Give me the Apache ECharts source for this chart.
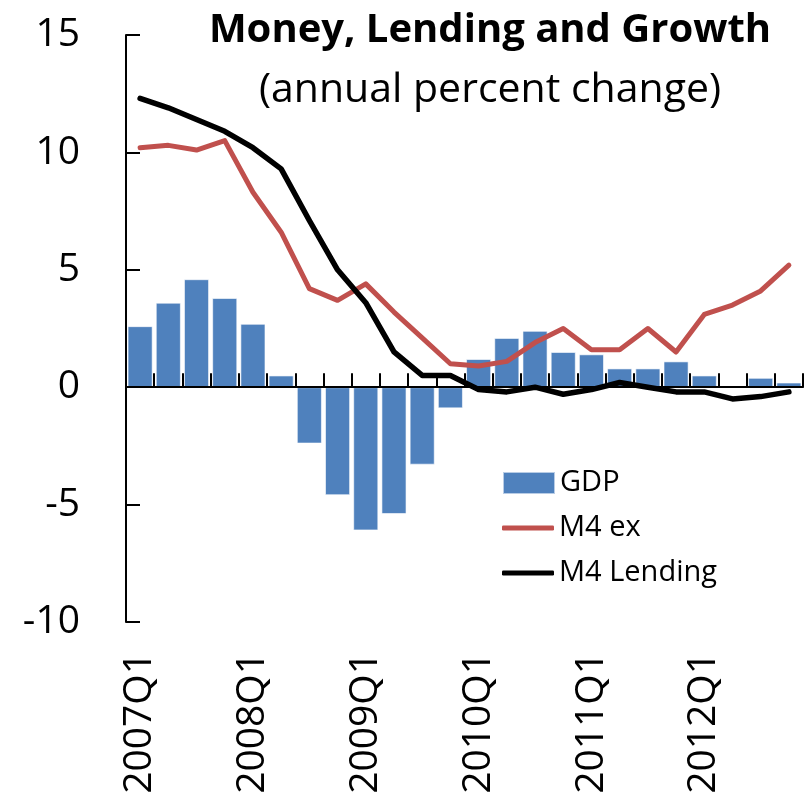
<!DOCTYPE html>
<html>
<head>
<meta charset="utf-8">
<script src="https://cdn.jsdelivr.net/npm/echarts@6/dist/echarts.min.js"></script>
<style>
  html, body { margin: 0; padding: 0; background: #fff; }
  #chart { width: 812px; height: 805px; }
</style>
</head>
<body>
<div id="chart"></div>
<script>
// Quarterly periods, 2007Q1 to 2012Q4
const quarters = [
  '2007Q1','2007Q2','2007Q3','2007Q4',
  '2008Q1','2008Q2','2008Q3','2008Q4',
  '2009Q1','2009Q2','2009Q3','2009Q4',
  '2010Q1','2010Q2','2010Q3','2010Q4',
  '2011Q1','2011Q2','2011Q3','2011Q4',
  '2012Q1','2012Q2','2012Q3','2012Q4'
];

// Annual percent change
const gdp = [2.6, 3.6, 4.6, 3.8, 2.7, 0.5, -2.4, -4.6, -6.1, -5.4, -3.3, -0.9,
             1.2, 2.1, 2.4, 1.5, 1.4, 0.8, 0.8, 1.1, 0.5, 0.0, 0.4, 0.2];
const m4ex = [10.2, 10.3, 10.1, 10.5, 8.3, 6.6, 4.2, 3.7, 4.4, 3.2, 2.1, 1.0,
              0.9, 1.1, 1.9, 2.5, 1.6, 1.6, 2.5, 1.5, 3.1, 3.5, 4.1, 5.2];
const m4Lending = [12.3, 11.9, 11.4, 10.9, 10.2, 9.3, 7.1, 5.0, 3.6, 1.5, 0.5, 0.5,
                   -0.1, -0.2, 0.0, -0.3, -0.1, 0.2, 0.0, -0.2, -0.2, -0.5, -0.4, -0.2];

const yTicks = { min: -10, max: 15, step: 5 };

const FONT = '"Open Sans", "Noto Sans", sans-serif';
const legendText = { fontFamily: FONT, fontSize: 29, color: '#000', lineHeight: 30 };

const chart = echarts.init(document.getElementById('chart'), null, { renderer: 'canvas' });

chart.setOption({
  backgroundColor: '#ffffff',
  animation: false,
  textStyle: { fontFamily: FONT, color: '#000' },
  title: {
    text: 'Money, Lending and Growth',
    subtext: '(annual percent change)',
    left: 485,
    top: 6,
    textAlign: 'center',
    itemGap: 19,
    textStyle: { fontFamily: FONT, fontSize: 40, fontWeight: 'bold', color: '#000' },
    subtextStyle: { fontFamily: FONT, fontSize: 41, color: '#000' }
  },
  legend: [
    {
      left: 497,
      top: 463,
      itemWidth: 52,
      itemHeight: 22,
      selectedMode: false,
      textStyle: legendText,
      data: [{ name: 'GDP', icon: 'rect' }]
    },
    {
      orient: 'vertical',
      left: 497,
      top: 508,
      itemWidth: 52,
      itemHeight: 5,
      itemGap: 15,
      selectedMode: false,
      textStyle: legendText,
      data: [
        { name: 'M4 ex', icon: 'roundRect' },
        { name: 'M4 Lending', icon: 'roundRect' }
      ]
    }
  ],
  grid: { left: 126, right: 9, top: 35, bottom: 183, containLabel: false },
  xAxis: [
    {
      // zero line with inward ticks between quarters
      type: 'category',
      data: quarters,
      boundaryGap: true,
      z: 3,
      axisLine: { onZero: true, lineStyle: { color: '#000', width: 2 } },
      axisTick: { show: true, inside: true, length: 14, interval: 0, lineStyle: { color: '#000', width: 2 } },
      axisLabel: { show: false },
      splitLine: { show: false }
    },
    {
      // year labels along the bottom edge
      type: 'category',
      data: quarters,
      position: 'bottom',
      boundaryGap: true,
      axisLine: { show: false, onZero: false },
      axisTick: { show: false },
      axisLabel: {
        show: true,
        interval: 3,
        rotate: 90,
        margin: 30,
        fontFamily: FONT,
        fontSize: 39,
        color: '#000'
      },
      splitLine: { show: false }
    }
  ],
  yAxis: {
    type: 'value',
    min: yTicks.min,
    max: yTicks.max,
    interval: yTicks.step,
    axisLine: { show: true, lineStyle: { color: '#000', width: 2 } },
    axisTick: { show: true, inside: true, length: 14, lineStyle: { color: '#000', width: 2 } },
    axisLabel: { margin: 46, fontFamily: FONT, fontSize: 39, color: '#000' },
    splitLine: { show: false }
  },
  series: [
    {
      name: 'GDP',
      type: 'bar',
      xAxisIndex: 0,
      data: gdp,
      barCategoryGap: '11%',
      itemStyle: { color: '#4F81BD', borderColor: 'rgba(255,255,255,0.6)', borderWidth: 1 }
    },
    {
      name: 'M4 ex',
      type: 'line',
      xAxisIndex: 0,
      data: m4ex,
      symbol: 'none',
      z: 4,
      lineStyle: { color: '#C0504D', width: 5, cap: 'round', join: 'round' },
      itemStyle: { color: '#C0504D' }
    },
    {
      name: 'M4 Lending',
      type: 'line',
      xAxisIndex: 0,
      data: m4Lending,
      symbol: 'none',
      z: 5,
      lineStyle: { color: '#000', width: 5.5, cap: 'round', join: 'round' },
      itemStyle: { color: '#000' }
    }
  ]
});
</script>
</body>
</html>
